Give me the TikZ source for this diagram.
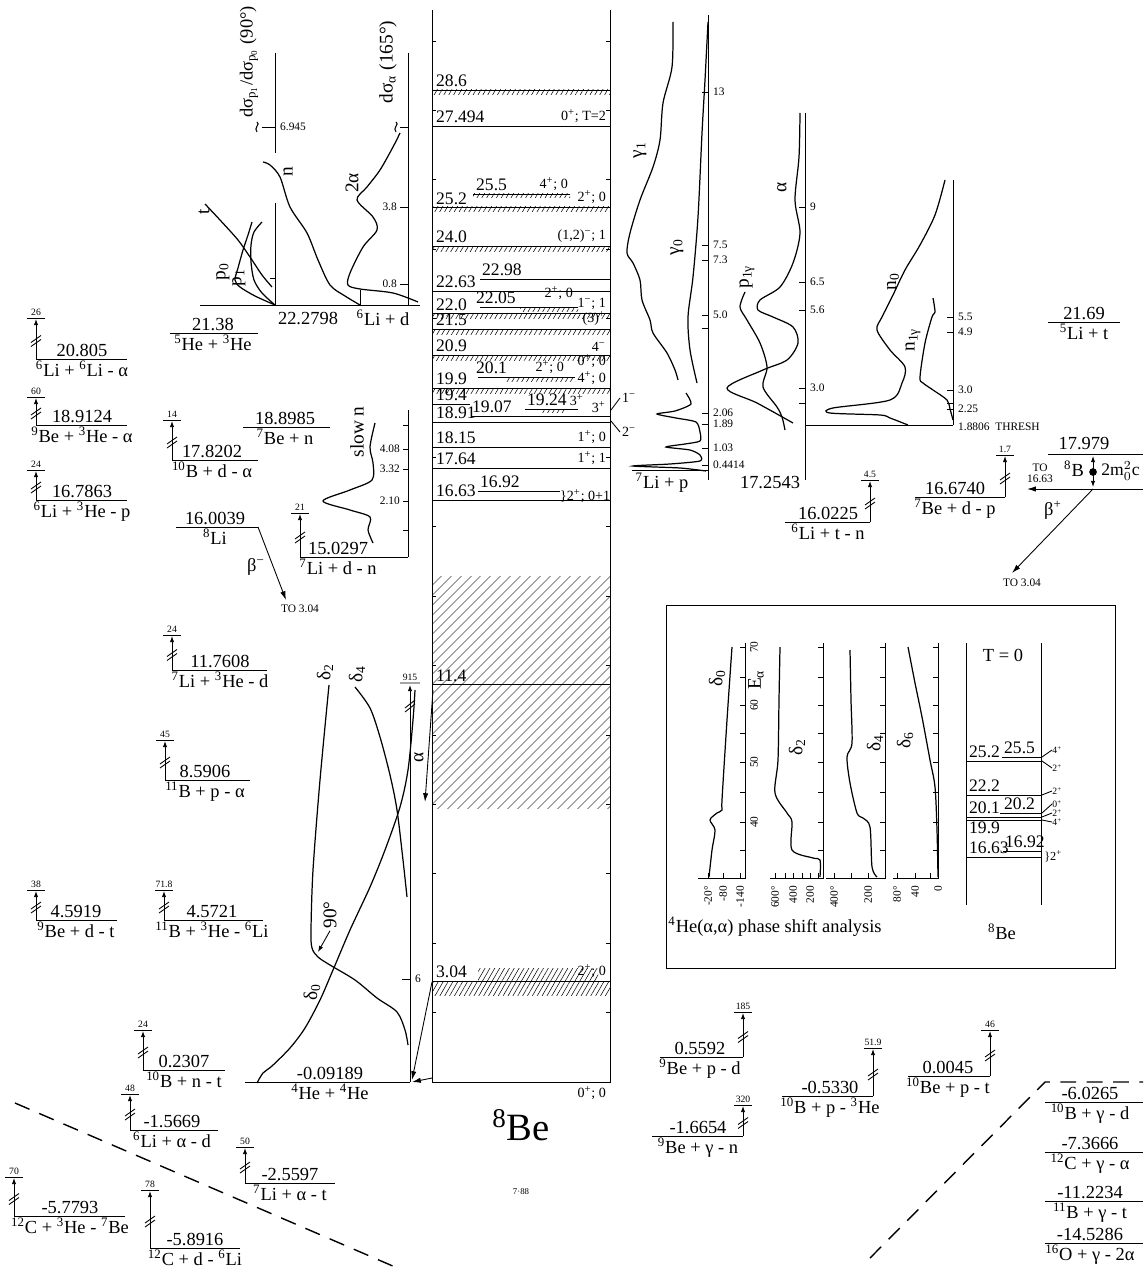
\documentclass[tikz,border=0pt]{standalone}
\usepackage{fontspec}
\setmainfont{Liberation Serif}
\usetikzlibrary{arrows.meta,patterns.meta}
\newcommand{\nuc}[2]{\textsuperscript{#1}#2}
\newcommand{\sqg}[2]{\draw[line width=.6pt] (#1,#2-5) .. controls (#1+4,#2-3) and (#1-4,#2+1) .. (#1,#2+5);}

\begin{document}
\begin{tikzpicture}[x=0.02cm,y=-0.02cm,line width=.5pt,
  lvl/.style={font=\fontsize{10.5}{12}\selectfont,inner sep=1pt},
  boxnum/.style={font=\fontsize{10}{11}\selectfont,inner sep=1pt,anchor=south west},
  jp/.style={font=\fontsize{8}{9}\selectfont,inner sep=1pt,anchor=south east},
  tiny/.style={font=\fontsize{5.5}{6}\selectfont,inner sep=1pt,anchor=south},
  axlab/.style={font=\fontsize{6.5}{7}\selectfont,inner sep=1pt},
  clab/.style={font=\fontsize{11}{12}\selectfont,inner sep=1pt,rotate=90},
  curve/.style={line width=.7pt},
  hatch/.style={pattern={Lines[angle=60,distance=2.4pt,line width=.3pt]}},
  bighatch/.style={pattern={Lines[angle=45,distance=4pt,line width=.3pt]}},
  up/.style={-{Latex[length=3.5pt,width=2.5pt]}},
  decay/.style={-{Latex[length=5pt,width=3pt]}},
  cut/.style={dashed,dash pattern=on 9pt off 6pt,line width=.8pt}
]
\useasboundingbox (0,0) rectangle (1143,1277);

% 8Be level scheme
\fill[bighatch] (432,576) rectangle (610,808);
\foreach \y in {90,207,246,313,329,355,388}
  \fill[hatch] (432,\y) rectangle (610,\y+5);
\fill[hatch] (473,194) rectangle (570,198);
\fill[hatch] (520,307) rectangle (578,311);
\fill[hatch] (505,377) rectangle (575,381);
\fill[hatch] (540,409) rectangle (565,412);
\fill[hatch] (478,968) rectangle (598,981);
\fill[hatch] (432,981) rectangle (610,995);
\draw (432,10) -- (432,1082) -- (610,1082) -- (610,10);
\foreach \k in {1,...,15}
  \draw (432,{1082-69.4*\k}) -- +(4,0) (610,{1082-69.4*\k}) -- +(-4,0);
\foreach \y in {90,126,207,246,291,313,329,355,388,422,447,468,500,684,981}
  \draw (432,\y) -- (610,\y);
\draw (473,194) -- (570,194) (480,279) -- (610,279) (480,307) -- (578,307)
  (478,377) -- (575,377) (432,404) -- (470,404) (472,416) -- (610,416)
  (525,409) -- (578,409) (478,491) -- (560,491);

\node[boxnum] (l286) at (434,89) {28.6};
\node[boxnum] (l27494) at (434,125) {27.494};
\node[jp] (j27494) at (608,125) {0\textsuperscript{+}; T=2};
\node[boxnum] (l255) at (474,193) {25.5};
\node[jp] (j255) at (570,193) {4\textsuperscript{+}; 0};
\node[boxnum] (l252) at (434,207) {25.2};
\node[jp] (j252) at (608,206) {2\textsuperscript{+}; 0};
\node[boxnum] (l240) at (434,245) {24.0};
\node[jp] (j240) at (608,245) {(1,2)\textsuperscript{−}; 1};
\node[boxnum] (l2298) at (480,278) {22.98};
\node[boxnum] (l2263) at (434,290) {22.63};
\node[boxnum] (l2205) at (474,306) {22.05};
\node[jp] (j2205) at (575,302) {2\textsuperscript{+}; 0};
\node[boxnum] (l220) at (434,313) {22.0};
\node[jp] (j220) at (608,312) {1\textsuperscript{−}; 1};
\node[boxnum] (l215) at (434,328) {21.5};
\node[jp] (j215) at (608,328) {(3)\textsuperscript{+}};
\node[boxnum] (l209) at (434,354) {20.9};
\node[jp] (j209) at (608,354) {4\textsuperscript{−}};
\node[boxnum] (l201) at (474,376) {20.1};
\node[jp] (j201) at (566,376) {2\textsuperscript{+}; 0};
\node[jp] (j201b) at (608,370) {0\textsuperscript{+}; 0};
\node[boxnum] (l199) at (434,387) {19.9};
\node[jp] (j199) at (608,387) {4\textsuperscript{+}; 0};
\node[boxnum] (l194) at (434,403) {19.4};
\node[boxnum] (l1924) at (525,408) {19.24};
\node[jp] (j1924) at (586,408) {3\textsuperscript{+}};
\node[boxnum] (l1907) at (470,415) {19.07};
\node[jp] (j1907) at (608,415) {3\textsuperscript{+}};
\node[boxnum] (l1891) at (434,421) {18.91};
\node[jp] (j1815) at (608,446) {1\textsuperscript{+}; 0};
\node[boxnum] (l1815) at (434,446) {18.15};
\node[jp] (j1764) at (608,467) {1\textsuperscript{+}; 1};
\node[boxnum] (l1764) at (434,467) {17.64};
\node[boxnum] (l1692) at (478,490) {16.92};
\node[boxnum] (l1663) at (434,499) {16.63};
\node[jp,anchor=west] (j1663) at (558,496) {\}2\textsuperscript{+}; 0+1};
\node[boxnum] (l114) at (434,684) {11.4};
\node[boxnum] (l304) at (434,980) {3.04};
\node[jp] (j304) at (608,980) {2\textsuperscript{+}; 0};
\node[jp,anchor=north east] (j00) at (608,1084) {0\textsuperscript{+}; 0};
\node[jp,anchor=west] (jm1) at (620,398) {1\textsuperscript{−}};
\node[jp,anchor=west] (jm2) at (620,432) {2\textsuperscript{−}};
\draw (611,410) -- (jm1.west) (611,421) -- (jm2.west);
\node[font=\fontsize{22}{24}\selectfont] (be8) at (521,1125) {\nuc{8}{Be}};
\node[font=\fontsize{5}{6}\selectfont] (date) at (521,1192) {7·88};

% decays of 8Be into two alphas
\coordinate (a114) at (433,690); \coordinate (a114e) at (425,802);
\coordinate (a304) at (432,982); \coordinate (a304e) at (412,1080);
\coordinate (a000) at (432,1078); \coordinate (a000e) at (412,1082);
\draw[decay] (a114) -- (a114e);
\draw[decay] (a304) -- (a304e);
\draw[decay] (a000) -- (a000e);
\node[clab] (alab) at (419,757) {α};

% alpha-alpha phase shifts
\draw[up] (410,1082) -- (410,685);
\draw (400,683) -- (420,683) (405,708) -- (415,700) (405,712) -- (415,704);
\node[tiny] (t915) at (410,683) {915};
\draw (402,979) -- (410,979);
\node[axlab,anchor=west] (e6) at (413,979) {6};
\draw[curve] plot[smooth] coordinates {(329,685) (320,780) (313,870) (311,930)
  (312,948) (318,957) (330,965) (355,980) (377,998) (397,1012) (405,1030) (408,1045)};
\draw[curve] plot[smooth] coordinates {(355,687) (370,708) (380,737) (390,775)
  (397,810) (403,860) (407,897)};
\draw[curve] plot[smooth] coordinates {(257,1083) (263,1073) (272,1066) (290,1048)
  (305,1028) (320,1000) (333,970) (350,930) (370,887) (385,850) (400,807) (408,770)
  (413,720) (415,690)};
\node[clab] (d2) at (325,672) {δ\textsubscript{2}};
\node[clab] (d4) at (357,674) {δ\textsubscript{4}};
\node[clab] (d0) at (312,992) {δ\textsubscript{0}};
\node[clab] (ninety) at (330,915) {90°};
\draw[up] (ninety.west) -- (318,952);

% cross sections at the 6Li + d threshold
\draw (200,305) -- (420,305);
\draw (275,203) -- (275,305) (270,278) -- (275,278);
\draw (275,53) -- (275,153) (262,127) -- (275,127);
\sqg{257}{127}
\node[axlab,anchor=west] (v6945) at (278,127) {6.945};
\draw (360,290) -- (360,305);
\draw (408,53) -- (408,305) (400,127) -- (408,127) (400,207) -- (408,207)
  (400,284) -- (408,284);
\sqg{396}{127}
\node[axlab,anchor=east] (v38) at (399,207) {3.8};
\node[axlab,anchor=east] (v08) at (399,284) {0.8};
\node[clab,font=\fontsize{10.5}{12}\selectfont] (ratio) at (249,62) {dσ\textsubscript{p\textsubscript{1}}/dσ\textsubscript{p\textsubscript{0}} (90°)};
\node[clab] (sa165) at (388,62) {dσ\textsubscript{α} (165°)};
\draw[curve] plot[smooth] coordinates {(205,204) (220,220) (238,240) (250,257) (262,275) (272,287)};
\draw[curve] plot[smooth] coordinates {(275,305) (255,296) (240,287) (235,280) (238,268)
  (243,250) (248,235) (252,222)};
\draw[curve] plot[smooth] coordinates {(275,305) (262,293) (254,280) (251,262) (251,245)
  (254,232) (262,222)};
\draw[curve] plot[smooth] coordinates {(360,305) (345,296) (330,285) (318,260) (307,233)
  (290,207) (280,177) (270,165) (263,162)};
\draw[curve] plot[smooth] coordinates {(418,302) (393,293) (360,289) (348,285) (350,273)
  (363,247) (377,230) (373,217) (357,200) (367,187) (380,170) (393,147) (400,133)};
\node[clab] (ct) at (204,212) {t};
\node[clab] (cp0) at (223,272) {p\textsubscript{0}};
\node[clab] (cp1) at (239,278) {p\textsubscript{1}};
\node[clab] (cn) at (288,172) {n};
\node[clab] (c2a) at (352,183) {2α};
\node[lvl] (e222798) at (308,318) {22.2798};
\node[lvl] (r6lid) at (383,318) {\nuc{6}{Li} + d};

% slow neutron cross section
\draw (408,557) -- (408,410);
\foreach \ty/\tl in {449/4.08,469/3.32,501/2.10} {
  \draw (403,\ty) -- (408,\ty);
  \node[axlab,anchor=east] (s\ty) at (402,\ty) {\tl};
}
\draw (403,425) -- (408,425) (403,530) -- (408,530);
\node[clab] (slown) at (357,432) {slow n};
\draw[curve] plot[smooth] coordinates {(375,423) (370,447) (373,463) (372,480) (350,490)
  (323,501) (350,510) (370,517) (368,530) (373,543)};

% 7Li + p cross sections
\draw (632,470) -- (708,470) (708,15) -- (708,480);
\foreach \ty/\tl in {92/13,245/7.5,260/7.3,315/5.0,413/2.06,424/1.89,448/1.03,465/0.4414} {
  \draw (702,\ty) -- (708,\ty);
  \node[axlab,anchor=west] (g\ty) at (711,\ty) {\tl};
}
\draw (702,328) -- (708,328);
\draw[curve] plot[smooth] coordinates {(673,22) (672,67) (663,103) (660,140) (653,167)
  (640,200) (630,233) (627,253) (633,263) (640,280) (642,300) (650,320) (653,333)
  (667,353) (675,370) (678,380)};
\draw[curve] plot[smooth,tension=.4] coordinates {(686,393) (691,404) (675,411) (657,414)
  (676,418) (696,422) (700,432) (700,441) (685,444) (666,447) (690,450) (700,455)
  (700,461) (670,464) (633,466) (680,468) (706,471)};
\draw[curve] plot[smooth] coordinates {(708,22) (705,80) (702,133) (698,217) (693,277)
  (688,317) (690,350) (697,383)};
\node[clab] (cg1) at (640,150) {γ\textsubscript{1}};
\node[clab] (cg0) at (677,247) {γ\textsubscript{0}};
\node[lvl] (r7lip) at (662,483) {\nuc{7}{Li} + p};
\node[lvl] (e172543) at (770,483) {17.2543};

\draw (805,113) -- (805,480) (805,425) -- (953,425);
\foreach \ty/\tl in {207/9,282/6.5,310/5.6,388/3.0} {
  \draw (799,\ty) -- (805,\ty);
  \node[axlab,anchor=west] (a\ty) at (808,\ty) {\tl};
}
\draw (799,403) -- (805,403);
\draw[curve] plot[smooth] coordinates {(800,113) (799,157) (795,200) (800,233) (793,263)
  (780,287) (760,300) (758,310) (773,317) (793,327) (798,343) (787,360) (763,370)
  (727,388) (757,403) (793,423)};
\draw[curve] plot[smooth] coordinates {(745,292) (740,307) (747,320) (760,343) (767,367)
  (763,387) (777,407) (782,417) (785,430)};
\node[clab] (cal) at (782,187) {α};
\node[clab] (cp1g) at (747,277) {p\textsubscript{1γ}};

\draw (953,180) -- (953,425);
\foreach \ty/\tl in {317/5.5,332/4.9,390/3.0,409/2.25} {
  \draw (947,\ty) -- (953,\ty);
  \node[axlab,anchor=west] (n\ty) at (956,\ty) {\tl};
}
\draw (947,403) -- (953,403);
\node[axlab,anchor=west] (thresh) at (956,427) {1.8806 \ THRESH};
\draw[curve] plot[smooth] coordinates {(945,180) (935,215) (920,245) (905,270) (893,295)
  (882,317) (877,330) (890,350) (905,367) (902,383) (890,400) (833,408) (830,413)
  (880,415) (890,418) (908,425)};
\draw[curve] plot[smooth] coordinates {(933,298) (935,312) (932,317) (925,343) (920,377)
  (923,383) (933,390) (947,400) (950,409) (953,420)};
\node[clab] (cn0) at (893,282) {n\textsubscript{0}};
\node[clab] (cn1g) at (913,340) {n\textsubscript{1γ}};

% thresholds with a bombarding energy scale
\foreach \nm/\xa/\xb/\xv/\yl/\yt/\xe/\e/\r/\t in {
  a/36/127/36/359/318/82/20.805/{\nuc{6}{Li} + \nuc{6}{Li} - α}/26,
  b/36/127/36/425/397/82/18.9124/{\nuc{9}{Be} + \nuc{3}{He} - α}/60,
  c/36/127/36/500/470/82/16.7863/{\nuc{6}{Li} + \nuc{3}{He} - p}/24,
  d/172/258/172/460/420/212/17.8202/{\nuc{10}{B} + d - α}/14,
  e/300/408/300/557/513/338/15.0297/{\nuc{7}{Li} + d - n}/21,
  f/172/267/172/670/635/220/11.7608/{\nuc{7}{Li} + \nuc{3}{He} - d}/24,
  g/165/250/165/780/740/205/8.5906/{\nuc{11}{B} + p - α}/45,
  h/36/117/36/920/890/76/4.5919/{\nuc{9}{Be} + d - t}/38,
  i/164/263/164/920/890/212/4.5721/{\nuc{11}{B} + \nuc{3}{He} - \nuc{6}{Li}}/71.8,
  j/143/225/143/1070/1030/184/0.2307/{\nuc{10}{B} + n - t}/24,
  k/130/218/130/1130/1094/172/-1.5669/{\nuc{6}{Li} + α - d}/48,
  l/245/335/245/1183/1147/290/-2.5597/{\nuc{7}{Li} + α - t}/50,
  m/14/125/14/1216/1177/70/-5.7793/{\nuc{12}{C} + \nuc{3}{He} - \nuc{7}{Be}}/70,
  n/150/240/150/1248/1190/195/-5.8916/{\nuc{12}{C} + d - \nuc{6}{Li}}/78,
  o/660/743/743/1057/1012/700/0.5592/{\nuc{9}{Be} + p - d}/185,
  p/782/873/873/1096/1048/830/-0.5330/{\nuc{10}{B} + p - \nuc{3}{He}}/51.9,
  q/908/990/990/1076/1030/948/0.0045/{\nuc{10}{Be} + p - t}/46,
  r/652/743/743/1136/1105/698/-1.6654/{\nuc{9}{Be} + γ - n}/320,
  s/785/870/870/522/480/828/16.0225/{\nuc{6}{Li} + t - n}/4.5,
  u/915/1005/1005/497/455/955/16.6740/{\nuc{7}{Be} + d - p}/1.7} {
  \pgfmathsetmacro\ym{(\yl+\yt)/2}
  \draw (\xa,\yl) -- (\xb,\yl) (\xv-9,\yt) -- (\xv+9,\yt);
  \draw[up] (\xv,\yl) -- (\xv,\yt+1);
  \draw (\xv-5,\ym+4) -- (\xv+5,\ym-3) (\xv-5,\ym+8) -- (\xv+5,\ym+1);
  \node[lvl,anchor=south] (e\nm) at (\xe,\yl) {\e};
  \node[lvl,anchor=north] (r\nm) at (\xe,\yl) {\r};
  \node[tiny] (t\nm) at (\xv,\yt) {\t};
}

% other thresholds
\foreach \nm/\xa/\xb/\yl/\xe/\e/\r in {
  he5/170/258/333/213/21.38/{\nuc{5}{He} + \nuc{3}{He}},
  ben/243/330/427/285/18.8985/{\nuc{7}{Be} + n},
  li8/176/258/527/215/16.0039/{\nuc{8}{Li}},
  li5/1048/1120/322/1084/21.69/{\nuc{5}{Li} + t},
  hehe/245/410/1082/330/-0.09189/{\nuc{4}{He} + \nuc{4}{He}},
  bgd/1045/1143/1102/1090/-6.0265/{\nuc{10}{B} + γ - d},
  cga/1045/1143/1152/1090/-7.3666/{\nuc{12}{C} + γ - α},
  bgt/1045/1143/1201/1090/-11.2234/{\nuc{11}{B} + γ - t},
  oga/1045/1143/1243/1090/-14.5286/{\nuc{16}{O} + γ - 2α}} {
  \draw (\xa,\yl) -- (\xb,\yl);
  \node[lvl,anchor=south] (e\nm) at (\xe,\yl) {\e};
  \node[lvl,anchor=north] (r\nm) at (\xe,\yl) {\r};
}

% beta decays
\coordinate (li8end) at (258,527); \coordinate (li8to) at (286,600);
\draw[decay] (li8end) -- (li8to);
\node[lvl] (bm) at (256,567) {β\textsuperscript{−}};
\node[axlab,anchor=north] (to304a) at (300,603) {TO 3.04};
\draw (1048,454) -- (1143,454) (1093,489) -- (1143,489);
\node[lvl,anchor=south] (e17979) at (1084,452) {17.979};
\node[lvl,anchor=east] (b8) at (1086,469) {\nuc{8}{B}};
\node[font=\fontsize{10}{11}\selectfont,anchor=west,inner sep=0pt] (mc2) at (1101,471) {2m$_0^2$c};
\draw[{Latex[length=3.5pt,width=2.5pt]}-{Latex[length=3.5pt,width=2.5pt]}] (1093,456) -- (1093,487);
\fill (1093,472) circle (2.2pt);
\coordinate (b8gs) at (1093,489); \coordinate (b8to) at (1027,489); \coordinate (b8beta) at (1012,573);
\draw[decay] (b8gs) -- (b8to);
\draw[decay] (b8gs) -- (b8beta);
\node[axlab] (to1) at (1040,468) {TO};
\node[axlab] (to2) at (1040,479) {16.63};
\node[lvl] (bp) at (1053,510) {β\textsuperscript{+}};
\node[axlab,anchor=north] (to304b) at (1022,577) {TO 3.04};

% cuts
\draw[cut] (15,1103) -- (402,1270);
\draw[cut] (870,1258) -- (1045,1082) -- (1143,1082);

% 4He(a,a) phase shift inset
\draw (666,605) rectangle (1115,968);
\foreach \ax/\bx in {745/698,823/770,885/826,938/893} {
  \draw (\ax,643) -- (\ax,878) -- (\bx,878);
  \foreach \ty in {647,677,705,733,762,792,822,850} \draw (\ax-5,\ty) -- (\ax,\ty);
}
\foreach \bx in {708,723,740,775,785,793,802,810,818,834,851,868,897,915,930}
  \draw (\bx,878) -- (\bx,873);
\foreach \bx/\bl in {708/{-20°},723/-80,740/-140,775/600°,793/400,810/200,834/400°,868/200,897/80°,915/40,938/0}
  \node[axlab,rotate=90,anchor=east] (b\bx) at (\bx,884) {\bl};
\foreach \ty/\el in {647/70,705/60,762/50,822/40}
  \node[axlab,rotate=90] (ea\el) at (754,\ty) {\el};
\node[clab] (ealpha) at (756,680) {E\textsubscript{α}};
\draw[curve] plot[smooth] coordinates {(732,647) (727,720) (722,800) (722,810) (717,813)
  (710,820) (715,830) (712,850) (709,877)};
\draw[curve] plot[smooth] coordinates {(780,647) (779,700) (778,760) (775,793) (787,813)
  (792,822) (792,850) (813,858) (820,860) (820,877)};
\draw[curve] plot[smooth] coordinates {(850,650) (851,700) (852,743) (847,757) (850,783)
  (857,813) (863,818) (870,827) (872,867) (877,877)};
\draw[curve] plot[smooth] coordinates {(908,647) (915,683) (922,717) (930,760) (935,787)
  (937,830) (938,877)};
\node[clab] (pd0) at (717,678) {δ\textsubscript{0}};
\node[clab] (pd2) at (797,747) {δ\textsubscript{2}};
\node[clab] (pd4) at (875,743) {δ\textsubscript{4}};
\node[clab] (pd6) at (905,740) {δ\textsubscript{6}};
\node[lvl] (caption) at (775,927) {\nuc{4}{He}(α,α) phase shift analysis};

\draw (966,643) -- (966,905) (1041,643) -- (1041,905);
\node[lvl] (tzero) at (1003,655) {T = 0};
\draw (1002,757) -- (1041,757) (966,761) -- (1041,761) (966,795) -- (1041,795)
  (1000,813) -- (1041,813) (966,817) -- (1041,817) (966,820) -- (1041,820)
  (1003,851) -- (1041,851) (966,857) -- (1041,857);
\node[boxnum] (m252) at (967,760) {25.2};
\node[boxnum] (m255) at (1002,756) {25.5};
\node[boxnum] (m222) at (967,794) {22.2};
\node[boxnum] (m201) at (967,816) {20.1};
\node[boxnum] (m202) at (1002,812) {20.2};
\node[boxnum,anchor=north west] (m199) at (967,820) {19.9};
\node[boxnum] (m1663) at (967,856) {16.63};
\node[boxnum] (m1692) at (1003,850) {16.92};
\foreach \ly/\ty/\tl in {757/750/4\textsuperscript{+},761/768/2\textsuperscript{+},795/791/2\textsuperscript{+},
  813/804/0\textsuperscript{+},817/813/2\textsuperscript{+},820/822/4\textsuperscript{+}} {
  \node[font=\fontsize{5.5}{5.5}\selectfont,inner sep=0pt,anchor=west] (s\ty) at (1052,\ty) {\tl};
  \draw (1042,\ly) -- (s\ty.west);
}
\node[font=\fontsize{7}{7}\selectfont,inner sep=.5pt,anchor=west] (sb) at (1043,856) {\}2\textsuperscript{+}};
\node[lvl] (be8b) at (1002,932) {\nuc{8}{Be}};
\end{tikzpicture}
\end{document}
